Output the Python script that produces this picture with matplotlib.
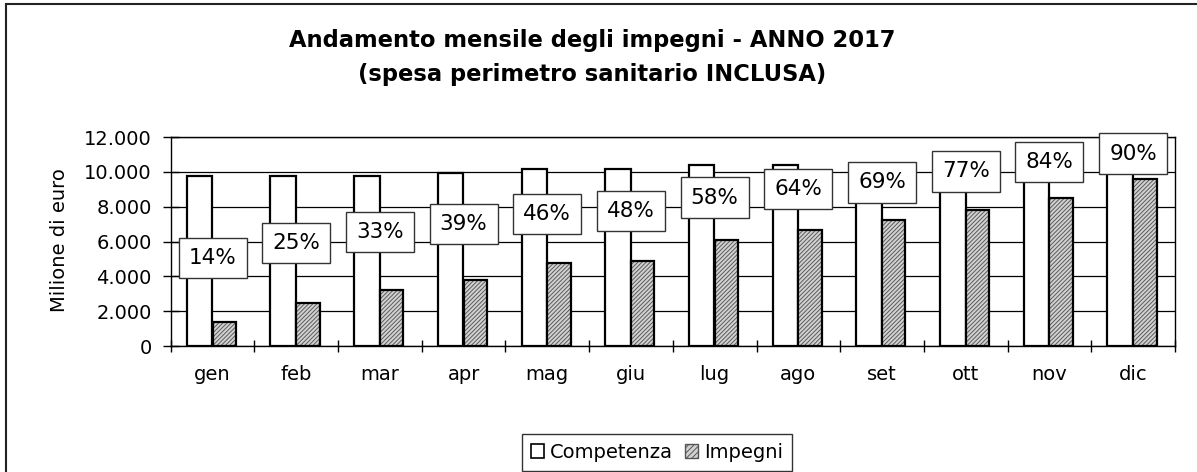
import numpy as np
import matplotlib
matplotlib.use("Agg")
import matplotlib.pyplot as plt
from matplotlib.patches import Patch, Rectangle
from matplotlib.ticker import FuncFormatter, FixedLocator

# Monthly data (million euro)
mesi = ['gen', 'feb', 'mar', 'apr', 'mag', 'giu',
        'lug', 'ago', 'set', 'ott', 'nov', 'dic']
competenza = [9780, 9780, 9780, 9910, 10160, 10160,
              10390, 10390, 10450, 10150, 10150, 10600]
impegni = [1380, 2450, 3220, 3810, 4750, 4880,
           6080, 6660, 7230, 7810, 8500, 9570]
percentuali = [14, 25, 33, 39, 46, 48, 58, 64, 69, 77, 84, 90]

plt.rcParams['font.family'] = ['DejaVu Sans']
plt.rcParams['hatch.linewidth'] = 0.7

fig = plt.figure(figsize=(11.97, 4.72), dpi=100)
ax = fig.add_axes([0.1426, 0.2669, 0.8390, 0.4428])

x = np.arange(len(mesi))

# Competenza bars (white)
ax.bar(x - 0.155, competenza, width=0.305, color='white',
       edgecolor='black', linewidth=1.6, zorder=3)

# Impegni bars (fine grey hatch), outline drawn separately
ax.bar(x + 0.14, impegni, width=0.28, color='#d2d2d2',
       edgecolor='#5a5a5a', hatch='////////', linewidth=0, zorder=3)
ax.bar(x + 0.14, impegni, width=0.28, fill=False,
       edgecolor='black', linewidth=1.6, zorder=4)

ax.set_xlim(-0.5, len(mesi) - 0.5)
ax.set_ylim(0, 12000)
ax.set_yticks(range(0, 12001, 2000))
ax.yaxis.set_major_formatter(FuncFormatter(lambda v, p: f"{int(v):,}".replace(',', '.')))
ax.grid(axis='y', color='black', linewidth=0.9, zorder=0)

ax.set_xticks(x)
ax.set_xticklabels(mesi)
ax.xaxis.set_minor_locator(FixedLocator(np.arange(-0.5, len(mesi), 1.0)))
ax.tick_params(axis='x', which='major', length=0, pad=14, labelsize=14)
ax.tick_params(axis='x', which='minor', direction='inout', length=9, width=1)
ax.tick_params(axis='y', direction='inout', length=11.5, width=1, pad=8, labelsize=14)

for s in ax.spines.values():
    s.set_linewidth(1.0)
    s.set_color('black')

# Percentage labels on a hidden secondary scale
ax2 = ax.twinx()
ax2.set_ylim(-0.5, 1.02)
ax2.axis('off')
for xi, p in zip(x, percentuali):
    ax2.text(xi, p / 100, f"{p}%", ha='center', va='center', fontsize=15.5,
             zorder=6, clip_on=False,
             bbox=dict(boxstyle='square,pad=0.47', facecolor='white',
                       edgecolor='#333333', linewidth=1.0))

fig.text(0.0493, 0.4915, 'Milione di euro', rotation=90, ha='center',
         va='center', fontsize=14)

fig.text(0.495, 0.879, "Andamento mensile degli impegni - ANNO 2017\n(spesa perimetro sanitario INCLUSA)",
         ha='center', va='center', fontsize=16.3, fontweight='bold', linespacing=1.6)

handles = [Patch(facecolor='white', edgecolor='black', linewidth=1.2, label='Competenza'),
           Patch(facecolor='#d2d2d2', edgecolor='#555555', hatch='//////',
                 linewidth=1.0, label='Impegni')]
leg = fig.legend(handles=handles, loc='upper left', bbox_to_anchor=(0.436, 0.0805),
                 ncol=2, fontsize=14, frameon=True, fancybox=False, borderaxespad=0,
                 borderpad=0.45, handlelength=0.7, handleheight=0.7,
                 handletextpad=0.3, columnspacing=0.6)
leg.get_frame().set_edgecolor('black')
leg.get_frame().set_linewidth(1.0)

# Outer chart border (top and left visible)
fig.add_artist(Rectangle((0.005, -0.2), 1.2, 1.2 - 0.0085, transform=fig.transFigure,
                         fill=False, edgecolor='#222222', linewidth=1.5))

fig.savefig('out.png', dpi=100)
